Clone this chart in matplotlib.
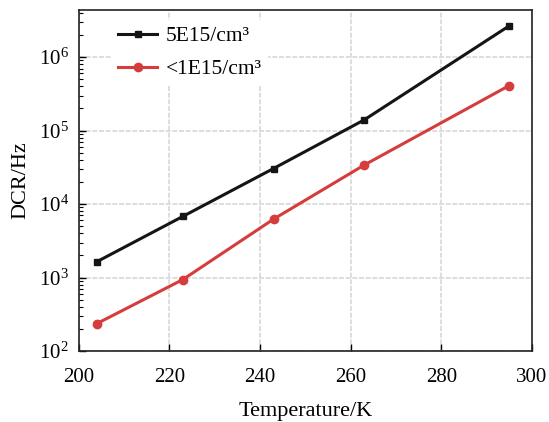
import numpy as np
import matplotlib
matplotlib.use("Agg")
import matplotlib.pyplot as plt
from matplotlib.ticker import LogLocator, NullFormatter

# ============================================================
# Data
# ============================================================

temperature = [204, 223, 243, 263, 295]
dcr_high = [1640, 6800, 30500, 140000, 2670000]   # 5E15/cm3
dcr_low = [236, 940, 6240, 34000, 411000]         # <1E15/cm3

labels = ["5E15/cm\u00b3", "<1E15/cm\u00b3"]

# ============================================================
# Style
# ============================================================

plt.rcParams['font.family'] = ['Liberation Serif', 'DejaVu Serif']
plt.rcParams['mathtext.fontset'] = 'stix'
plt.rcParams['font.size'] = 15

fig = plt.figure(figsize=(5.49, 4.22), dpi=100)
ax = fig.add_axes([0.143, 0.168, 0.826, 0.808])

ax.plot(temperature, dcr_high, color='#151515', lw=2.2,
        marker='s', markersize=5, label=labels[0])
ax.plot(temperature, dcr_low, color='#d63c3c', lw=2.2,
        marker='o', markersize=6, label=labels[1])

ax.set_yscale('log')
ax.set_xlim(200, 300)
ax.set_ylim(1e2, 4.36e6)
ax.set_xticks([200, 220, 240, 260, 280, 300])

ax.yaxis.set_major_locator(LogLocator(base=10, numticks=10))
ax.yaxis.set_minor_locator(LogLocator(base=10, subs=np.arange(2, 10), numticks=20))
ax.yaxis.set_minor_formatter(NullFormatter())

ax.tick_params(which='both', direction='in', labelsize=15)
ax.tick_params(which='major', length=5, width=1)
ax.tick_params(which='minor', length=3, width=0.8)
ax.tick_params(axis='x', pad=12)
ax.tick_params(axis='y', pad=7)

for sp in ax.spines.values():
    sp.set_linewidth(1.2)
    sp.set_color('#222222')

ax.grid(True, which='major', color='#d8d8d8', lw=1.2, ls=(0, (3, 1)))
ax.set_axisbelow(True)

ax.set_xlabel('Temperature/K', fontsize=16, labelpad=11)
ax.set_ylabel('DCR/Hz', fontsize=16, labelpad=6)

leg = ax.legend(loc='upper left', bbox_to_anchor=(0.064, 0.984), frameon=True,
                fontsize=15.5, handlelength=1.8, borderaxespad=0.2,
                labelspacing=0.59, handletextpad=0.4, borderpad=0.3)
leg.get_frame().set_edgecolor('none')
leg.get_frame().set_facecolor('white')
leg.get_frame().set_alpha(1.0)

plt.savefig('out.png', dpi=100)
plt.close()
